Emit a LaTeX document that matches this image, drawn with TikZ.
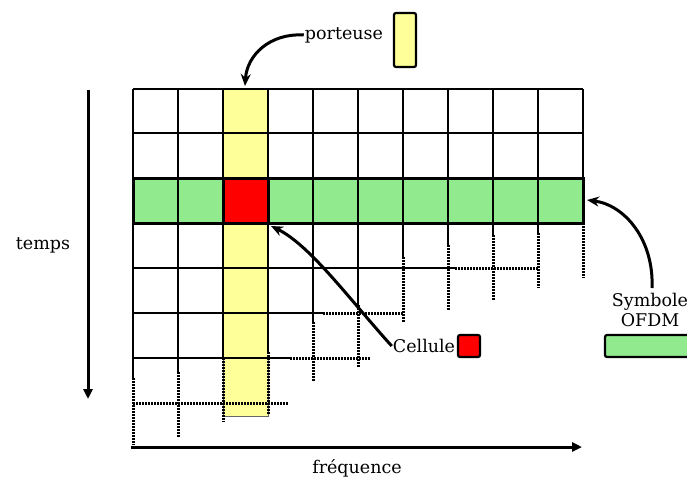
\documentclass[tikz,border=0pt]{standalone}
\usepackage{fontspec}
\setmainfont{DejaVu Serif}
\usetikzlibrary{arrows.meta}
\definecolor{carrier}{HTML}{FFFF99}
\definecolor{symb}{HTML}{92EA8E}
\definecolor{cellred}{HTML}{FF0000}
\tikzset{
  gridline/.style={line width=2.8pt},
  dotline/.style={line width=3pt, dash pattern=on 1.5pt off 1.5pt},
  axisarrow/.style={line width=3pt, -{Triangle[length=10pt,width=9pt]}},
  callout/.style={line width=3pt, -{Stealth[length=12pt,width=10pt]}},
  lbl/.style={font=\fontsize{17.5}{20}\selectfont, inner sep=1pt},
  legend/.style={draw, line width=2.2pt, rounded corners=2pt, inner sep=0pt}
}
\begin{document}
\begin{tikzpicture}[x=1pt,y=-1pt]
\useasboundingbox (0,0) rectangle (687,479);
% fills
\fill[carrier] (223,89) rectangle (268,416);
\draw[line width=0.7pt, black!60] (223,358) -- (223,416) -- (268,416) -- (268,358);
\fill[symb] (133,178) rectangle (583,223);
\fill[cellred] (223,178) rectangle (268,223);
% solid horizontals
\foreach \yy in {89,133,178,223} \draw[gridline] (133,\yy) -- (583,\yy);
\draw[gridline] (133,268) -- (455,268);
\draw[gridline] (133,313) -- (323,313);
\draw[gridline] (133,358) -- (290,358);
% dotted horizontals
\draw[dotline] (455,268) -- (538,268);
\draw[dotline] (323,313) -- (403,313);
\draw[dotline] (290,358) -- (370,358);
\draw[dotline] (133,403) -- (288,403);
% solid verticals
\draw[gridline] (133,89) -- (133,378);
\draw[gridline] (178,89) -- (178,372);
\draw[gridline] (223,89) -- (223,358);
\draw[gridline] (268,89) -- (268,352);
\draw[gridline] (313,89) -- (313,322);
\draw[gridline] (358,89) -- (358,305);
\draw[gridline] (403,89) -- (403,257);
\draw[gridline] (448,89) -- (448,245);
\draw[gridline] (493,89) -- (493,235);
\draw[gridline] (538,89) -- (538,233);
\draw[gridline] (583,89) -- (583,223);
% dotted verticals
\draw[dotline] (133,378) -- (133,445);
\draw[dotline] (178,372) -- (178,437);
\draw[dotline] (223,358) -- (223,422);
\draw[dotline] (268,352) -- (268,415);
\draw[dotline] (313,322) -- (313,382);
\draw[dotline] (358,305) -- (358,367);
\draw[dotline] (403,257) -- (403,322);
\draw[dotline] (448,245) -- (448,310);
\draw[dotline] (493,235) -- (493,300);
\draw[dotline] (538,233) -- (538,288);
\draw[dotline] (583,223) -- (583,278);
% green row and red cell outlines
\draw[line width=3pt] (133,178) rectangle (583,223);
\draw[line width=3pt] (223,178) rectangle (268,223);
% axes
\coordinate (tTop) at (88,90);
\coordinate (tBot) at (88,399);
\draw[axisarrow] (tTop) -- (tBot);
\coordinate (fL) at (131,447);
\coordinate (fR) at (582,447);
\draw[axisarrow] (fL) -- (fR);
\node[lbl] (temps) at (43,245) {temps};
\node[lbl] (freq) at (357,468) {fréquence};
% porteuse
\node[lbl] (porteuse) at (344,35) {porteuse};
\node[legend, fill=carrier, minimum width=22pt, minimum height=54pt] (legP) at (405,40) {};
\coordinate (pTip) at (245,86);
\draw[callout] (porteuse.west) .. controls (270,33) and (247,55) .. (pTip);
% cellule
\node[lbl] (cellule) at (424,346) {Cellule};
\node[legend, fill=cellred, minimum width=22pt, minimum height=22pt] (legC) at (469,346) {};
\coordinate (cTip) at (271,226);
\draw[callout] (cellule.west) .. controls (350,300) and (310,245) .. (cTip);
% symbole
\node[lbl, align=center] (symbole) at (650,310) {Symbole\\OFDM};
\begin{scope}
\clip (0,0) rectangle (687,479);
\draw[line width=2.2pt, fill=symb, rounded corners=2pt] (605,335) rectangle (700,357);
\end{scope}
\coordinate (sTip) at (587,200);
\draw[callout] (652,288) .. controls (654,240) and (625,205) .. (sTip);
\end{tikzpicture}
\end{document}
